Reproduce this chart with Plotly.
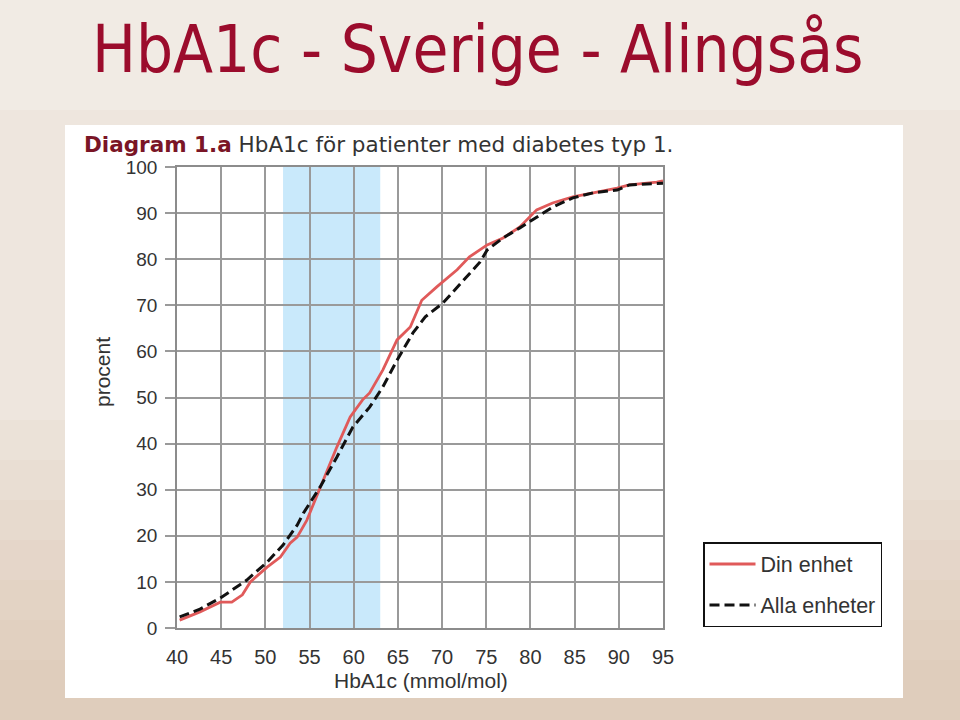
import plotly.graph_objects as go

# --- data ---
din_x = [40.3, 42.6, 44.9, 46.2, 47.4, 48.3, 50.2, 51.7, 52.8, 53.6, 54.7, 56.2, 58.1, 59.6,
         61.0, 61.8, 63.3, 64.9, 66.4, 67.7, 69.4, 71.7, 73.1, 75.1, 76.9, 78.8, 80.7, 82.5,
         84.8, 87.1, 89.8, 91.2, 94.3, 95.0]
din_y = [1.7, 3.5, 5.6, 5.6, 7.2, 10.0, 13.2, 15.4, 18.4, 19.7, 23.4, 30.6, 39.3, 45.8,
         49.5, 51.0, 56.0, 62.5, 65.3, 71.1, 74.0, 77.7, 80.5, 83.1, 84.6, 87.0, 90.7, 92.2,
         93.5, 94.4, 95.4, 96.1, 96.7, 97.0]
alla_x = [40.3, 42.6, 44.9, 47.9, 50.2, 52.0, 53.6, 54.3, 56.2, 58.1, 59.9, 61.8, 63.3,
          64.9, 66.7, 68.1, 70.1, 72.4, 74.3, 75.1, 76.9, 78.8, 80.7, 82.5, 84.8, 87.1,
          89.8, 91.2, 95.0]
alla_y = [2.4, 4.1, 6.5, 10.4, 14.3, 18.0, 22.3, 24.9, 30.6, 37.1, 43.6, 47.9, 52.3,
          58.1, 64.0, 67.5, 70.5, 75.5, 79.4, 82.0, 84.6, 86.8, 89.2, 91.3, 93.3, 94.4,
          95.0, 96.1, 96.5]
target_range = [52, 63]
x_ticks = [40, 45, 50, 55, 60, 65, 70, 75, 80, 85, 90, 95]
y_ticks = [0, 10, 20, 30, 40, 50, 60, 70, 80, 90, 100]

W, H = 960, 720
L, R, T, B = 177, 297, 167, 92
pw, ph = W - L - R, H - T - B

def px(x):
    return (x - L) / pw

def py(y):
    return (H - B - y) / ph

fig = go.Figure()
fig.add_trace(go.Scatter(x=din_x, y=din_y, mode="lines", name="Din enhet",
                         line=dict(color="#e05a5a", width=2.8), legendgroup="a"))
fig.add_trace(go.Scatter(x=alla_x, y=alla_y, mode="lines", name="Alla enheter",
                         line=dict(color="#111111", width=3, dash="10px,5px"), legendgroup="b"))

shapes = []
# slide background with soft vertical tone change
shapes.append(dict(type="rect", xref="paper", yref="paper", x0=px(0), x1=px(W), y0=py(H), y1=py(0),
                   fillcolor="#eee6de", line_width=0, layer="below"))
for y_top, a in [(420, 0.05), (460, 0.05), (500, 0.05), (540, 0.05), (580, 0.05), (620, 0.05), (660, 0.05)]:
    shapes.append(dict(type="rect", xref="paper", yref="paper", x0=px(0), x1=px(W),
                       y0=py(H), y1=py(y_top),
                       fillcolor="rgba(190,150,115,%.2f)" % a, line_width=0, layer="below"))
shapes.append(dict(type="rect", xref="paper", yref="paper", x0=px(0), x1=px(W), y0=py(110), y1=py(0),
                   fillcolor="rgba(255,255,255,0.2)", line_width=0, layer="below"))
# white panel
shapes.append(dict(type="rect", xref="paper", yref="paper", x0=px(65), x1=px(903), y0=py(698), y1=py(125),
                   fillcolor="white", line_width=0, layer="below"))
# target band
shapes.append(dict(type="rect", xref="x", yref="paper", x0=target_range[0], x1=target_range[1], y0=0, y1=1,
                   fillcolor="#c9e9fb", line_width=0, layer="below"))

annotations = [
    dict(text="HbA1c - Sverige - Alingsås", x=px(478), y=py(49), xref="paper", yref="paper",
         showarrow=False, xanchor="center", yanchor="middle",
         font=dict(family="DejaVu Sans Condensed, Liberation Sans", size=65, color="#9b0c2c")),
    dict(text="<b><span style='color:#7a1526'>Diagram 1.a</span></b> HbA1c för patienter med diabetes typ 1.",
         x=px(82), y=py(144), xref="paper", yref="paper", showarrow=False,
         xanchor="left", yanchor="middle",
         font=dict(family="DejaVu Sans", size=21.5, color="#333333")),
    dict(text="procent", x=px(102), y=py(372), xref="paper", yref="paper", showarrow=False,
         textangle=-90, xanchor="center", yanchor="middle",
         font=dict(family="Liberation Sans", size=21, color="#333333")),
    dict(text="HbA1c (mmol/mol)", x=px(421), y=py(680), xref="paper", yref="paper", showarrow=False,
         xanchor="center", yanchor="middle",
         font=dict(family="Liberation Sans", size=21, color="#333333")),
]

fig.update_layout(
    width=W, height=H,
    margin=dict(l=L, r=R, t=T, b=B, pad=0),
    paper_bgcolor="#eee6de",
    plot_bgcolor="white",
    shapes=shapes,
    annotations=annotations,
    showlegend=True,
    legend=dict(x=px(703), y=py(542), xanchor="left", yanchor="top",
                bgcolor="white", bordercolor="#111111", borderwidth=1.5,
                font=dict(family="Liberation Sans", size=21.5, color="#333333"),
                tracegroupgap=10, traceorder="grouped", itemwidth=46),
    xaxis=dict(range=[40, 95], tickvals=x_ticks, ticktext=[str(v) for v in x_ticks],
               showgrid=True, gridcolor="#9a9a9a", gridwidth=1.5,
               showline=True, mirror=True, linecolor="#8c8c8c", linewidth=1.5,
               ticks="outside", ticklen=10, tickcolor="rgba(0,0,0,0)",
               tickfont=dict(family="Liberation Sans", size=20, color="#333333"),
               zeroline=False, fixedrange=True),
    yaxis=dict(range=[0, 100], tickvals=y_ticks, ticktext=[str(v) for v in y_ticks],
               showgrid=True, gridcolor="#9a9a9a", gridwidth=1.5,
               showline=True, mirror=True, linecolor="#8c8c8c", linewidth=1.5,
               ticks="outside", ticklen=10, tickcolor="#9a9a9a", tickwidth=1.5,
               ticklabelstandoff=4,
               tickfont=dict(family="Liberation Sans", size=19, color="#333333"),
               zeroline=False, fixedrange=True),
)

fig.write_html("out.html")
